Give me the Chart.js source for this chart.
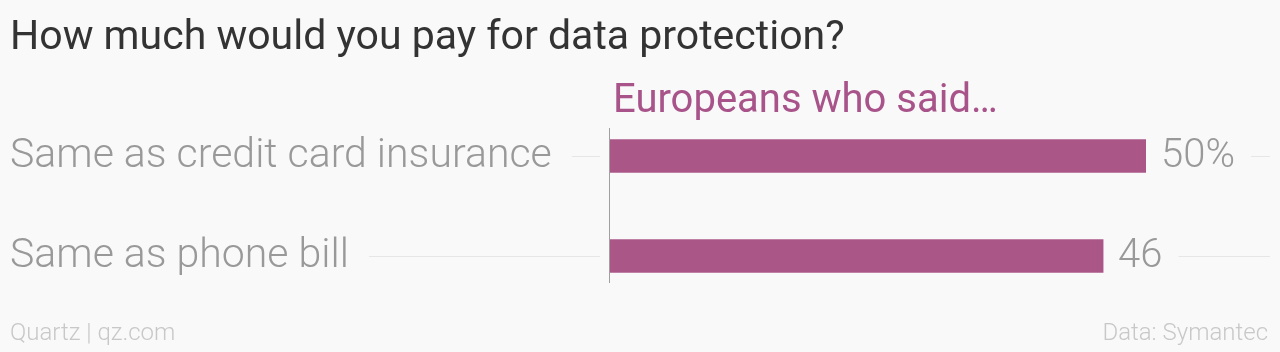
<!DOCTYPE html>
<html>
<head>
<meta charset="utf-8">
<script src="https://cdn.jsdelivr.net/npm/chart.js@4/dist/chart.umd.min.js"></script>
<style>
  body { margin: 0; background: #f9f9f9; font-family: Roboto, sans-serif; }
  #wrap { position: relative; width: 1280px; height: 352px; overflow: hidden; }
  #title { position: absolute; left: 10px; top: 11px; font-size: 41px; color: #333; white-space: nowrap; }
  .foot { position: absolute; top: 318px; font-size: 24px; font-weight: 300; color: #c8c8c8; }
  canvas { position: absolute; left: 0; top: 0; }
</style>
</head>
<body>
<div id="wrap">
  <canvas id="chart" width="1280" height="352"></canvas>
  <div id="title">How much would you pay for data protection?</div>
  <div class="foot" style="left:10px">Quartz | qz.com</div>
  <div class="foot" style="right:12px">Data: Symantec</div>
</div>
<script>
// answers and share of Europeans (%)
const categories = ["Same as credit card insurance", "Same as phone bill"];
const values = [50, 46];
const valueLabels = ["50%", "46"];
const seriesName = "Europeans who said…";

const barColor = "#aa5788";

// labels, guide lines, value labels and zero line
const decor = {
  id: "decor",
  afterDatasetsDraw(chart) {
    const { ctx, scales: { x, y } } = chart;
    const x0 = x.getPixelForValue(0);
    ctx.save();
    ctx.textBaseline = "middle";
    categories.forEach((c, i) => {
      const cy = y.getPixelForValue(i);
      ctx.fillStyle = "#999";
      ctx.textAlign = "left";
      ctx.font = "300 41px Roboto";
      ctx.fillText(c, 10, cy + 1);
      const lw = ctx.measureText(c).width;
      const xe = x.getPixelForValue(values[i]);
      ctx.font = "300 40px Roboto";
      ctx.fillText(valueLabels[i], xe + 15, cy + 1);
      const vw = ctx.measureText(valueLabels[i]).width;
      ctx.strokeStyle = "#e6e6e6";
      ctx.lineWidth = 1;
      ctx.beginPath();
      ctx.moveTo(10 + lw + 20, Math.round(cy) + 0.5);
      ctx.lineTo(x0 - 10, Math.round(cy) + 0.5);
      ctx.moveTo(xe + 15 + vw + 16, Math.round(cy) + 0.5);
      ctx.lineTo(1270, Math.round(cy) + 0.5);
      ctx.stroke();
    });
    // zero line
    const top = y.getPixelForValue(0) - 28;
    const bot = y.getPixelForValue(categories.length - 1) + 27;
    ctx.strokeStyle = "#a0a0a0";
    ctx.beginPath();
    ctx.moveTo(Math.round(x0) - 0.5, top);
    ctx.lineTo(Math.round(x0) - 0.5, bot);
    ctx.stroke();
    // series header
    ctx.font = "400 40px Roboto";
    ctx.fillStyle = "#a8548a";
    ctx.textBaseline = "alphabetic";
    ctx.fillText(seriesName, x0 + 3, 112);
    ctx.restore();
  }
};

new Chart(document.getElementById("chart"), {
  type: "bar",
  data: {
    labels: categories,
    datasets: [{
      label: seriesName,
      data: values,
      backgroundColor: barColor,
      barThickness: 33
    }]
  },
  options: {
    indexAxis: "y",
    responsive: false,
    animation: false,
    layout: { padding: { left: 610, right: 134, top: 106, bottom: 46 } },
    plugins: { legend: { display: false }, tooltip: { enabled: false } },
    scales: {
      x: { display: false, min: 0, max: 50 },
      y: { display: false }
    }
  },
  plugins: [decor]
});
</script>
</body>
</html>
